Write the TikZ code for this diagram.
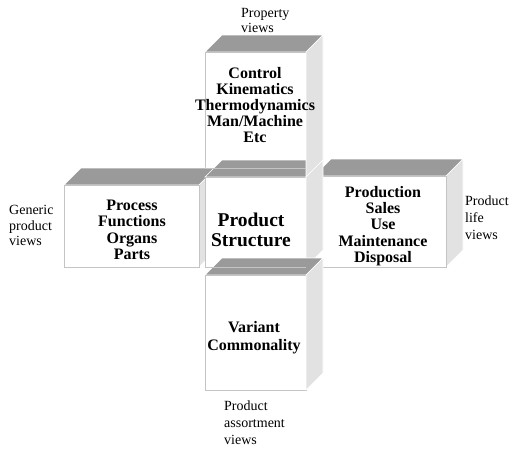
\documentclass[tikz,border=0pt]{standalone}
\usepackage{fontspec}
\setmainfont{Liberation Serif}
\definecolor{topgray}{HTML}{9A9A9A}
\definecolor{sidegray}{HTML}{E2E2E2}
\definecolor{bordergray}{HTML}{C4C4C4}
\tikzset{
  topface/.style={fill=topgray, draw=white, line width=0.6pt},
  sideface/.style={fill=sidegray, draw=white, line width=0.6pt},
  frontface/.style={fill=white, draw=bordergray, line width=1pt},
  seam/.style={draw=bordergray, line width=1pt},
  boxtext/.style={align=center, inner sep=0pt, font=\fontsize{16}{15.9}\selectfont\bfseries},
  viewlabel/.style={align=left, inner sep=0pt, anchor=west}
}
\begin{document}
\begin{tikzpicture}[x=1pt,y=-1pt]
\useasboundingbox (0,0) rectangle (509,448);
% top box (front + top)
\path[topface] (205,52)--(306,52)--(323,35)--(222,35)--cycle;
\path[frontface] (205,52) rectangle (306,168);
% left box
\path[topface] (64,185)--(199,185)--(216,168)--(81,168)--cycle;
\path[sideface] (199,185)--(216,168)--(216,250)--(199,267)--cycle;
\path[frontface] (64,185) rectangle (199,267);
% right box
\path[topface] (314,176)--(446,176)--(463,159)--(331,159)--cycle;
\path[sideface] (446,176)--(463,159)--(463,250)--(446,267)--cycle;
\path[frontface] (314,176) rectangle (446,267);
% centre box
\path[topface] (205,177)--(306,177)--(323,160)--(222,160)--cycle;
\path[frontface] (205,177) rectangle (306,267);
\path[sideface] (306,52)--(323,35)--(323,160)--(306,177)--cycle;
\path[sideface] (306,177)--(323,160)--(323,250)--(306,267)--cycle;
% bottom box
\path[topface] (205,275)--(306,275)--(323,258)--(222,258)--cycle;
\path[frontface] (205,275) rectangle (306,390);
\path[sideface] (306,275)--(323,258)--(323,373)--(306,390)--cycle;
% seams
\path[seam] (205,168)--(306,168);
\path[seam] (205,267)--(306,267);
% texts
\node[boxtext] (tt) at (255,105) {Control\\Kinematics\\Thermodynamics\\Man/Machine\\Etc};
\node[boxtext, font=\fontsize{16}{16.5}\selectfont\bfseries] (lt) at (132,230) {Process\\Functions\\Organs\\Parts};
\node[boxtext, font=\fontsize{16}{16.3}\selectfont\bfseries] (rt) at (383,226) {Production\\Sales\\Use\\Maintenance\\Disposal};
\node[boxtext, font=\fontsize{19.5}{19.5}\selectfont\bfseries] (ct) at (251,230) {Product\\Structure};
\node[boxtext, font=\fontsize{16}{18}\selectfont\bfseries] (bt) at (254,338) {Variant\\Commonality};
\node[viewlabel, font=\fontsize{14}{15.5}\selectfont] (pv) at (241,20.5) {Property\\views};
\node[viewlabel, font=\fontsize{14}{15.5}\selectfont] (gv) at (9,225.5) {Generic\\product\\views};
\node[viewlabel, font=\fontsize{14}{17}\selectfont] (lv) at (465,218) {Product\\life\\views};
\node[viewlabel, font=\fontsize{14}{17}\selectfont] (av) at (224,423) {Product\\assortment\\views};
\end{tikzpicture}
\end{document}
